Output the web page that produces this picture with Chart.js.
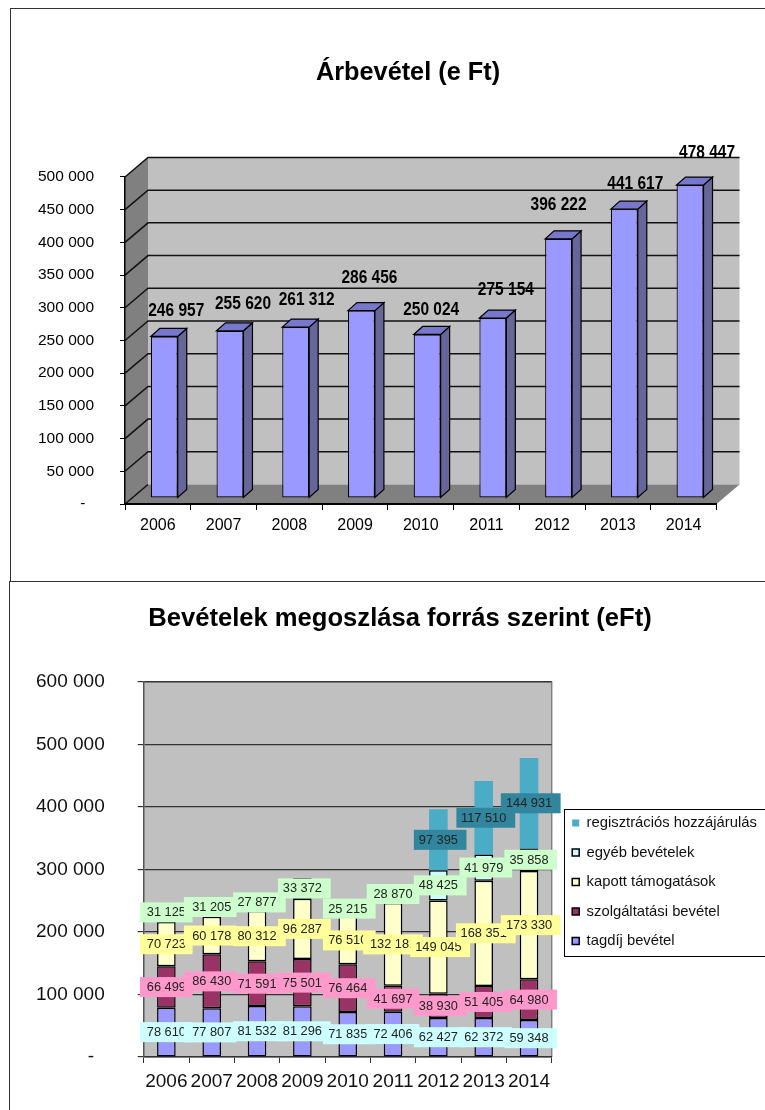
<!DOCTYPE html>
<html>
<head>
<meta charset="utf-8">
<script src="https://cdn.jsdelivr.net/npm/chart.js@4/dist/chart.umd.min.js"></script>
<style>
    html, body { margin: 0; padding: 0; background: #fff; }
    body { position: relative; width: 765px; height: 1110px; overflow: hidden; }
    canvas { position: absolute; left: 0; }
    #revenueChart { top: 0; }
    #sourcesChart { top: 581px; }
    .frame { position: absolute; background: #333; }
</style>
</head>
<body>
<div class="frame" style="left:10px;top:8px;width:755px;height:1px"></div>
<div class="frame" style="left:10px;top:8px;width:1px;height:573px"></div>
<div class="frame" style="left:9px;top:581px;width:756px;height:1px"></div>
<div class="frame" style="left:9px;top:581px;width:1px;height:529px"></div>
<canvas id="revenueChart" width="765" height="581"></canvas>
<canvas id="sourcesChart" width="765" height="529"></canvas>
<script>
const years = ["2006", "2007", "2008", "2009", "2010", "2011", "2012", "2013", "2014"];

// Árbevétel
const revenue = [246957, 255620, 261312, 286456, 250024, 275154, 396222, 441617, 478447];
const revenueLabelDx = [12, 13, 11, 8, 4, 13, 0, 11, 17];
const revenueLabelDy = [-26, -27, -27, -33, -25, -28, -34, -25, -32];

// Bevételek megoszlása
const tagdij = [78610, 77807, 81532, 81296, 71835, 72406, 62427, 62372, 59348];
const szolgaltatasi = [66499, 86430, 71591, 75501, 76464, 41697, 38930, 51405, 64980];
const tamogatasok = [70723, 60178, 80312, 96287, 76510, 132181, 149045, 168351, 173330];
const egyeb = [31125, 31205, 27877, 33372, 25215, 28870, 48425, 41979, 35858];
const regisztracios = [null, null, null, null, null, null, 97395, 117510, 144931];
// label boxes are not quite centred on their text in the original, per year
const labelBoxShift = [-0.1, -1.5, 2.4, 2, 1.6, 0, 1.8, 2.1, 1.7];

const FONT = "'Liberation Sans', Arial, sans-serif";

// thousands separated by space, zero printed as a dash like the excel format
function formatHu(value) {
    if (value === 0) return "-  ";
    return String(value).replace(/\B(?=(\d{3})+$)/g, " ");
}

// title block is centred on its own left/right, so move those after layout
function centerTitle(chart, center) {
    chart.titleBlock.left = center - 300;
    chart.titleBlock.right = center + 300;
}

// fake 3D for the upper chart, bars are shifted off the front plane
const wallDx = 23, wallDy = 19.5;
const barDx = 6.4, barDy = 6;
const depthX = 9, depthY = 8;

const fake3dPlugin = {
    id: "fake3d",
    afterLayout(chart) {
        centerTitle(chart, 408);
    },
    beforeDraw(chart) {
        const { ctx, chartArea: a, scales: { y } } = chart;
        ctx.save();
        ctx.fillStyle = "#C0C0C0";
        ctx.fillRect(a.left + wallDx, a.top - wallDy, a.width, a.height);
        ctx.fillStyle = "#808080";
        ctx.beginPath();
        ctx.moveTo(a.left, a.top);
        ctx.lineTo(a.left + wallDx, a.top - wallDy);
        ctx.lineTo(a.left + wallDx, a.bottom - wallDy);
        ctx.lineTo(a.left, a.bottom);
        ctx.closePath();
        ctx.fill();
        ctx.beginPath();
        ctx.moveTo(a.left, a.bottom);
        ctx.lineTo(a.left + wallDx, a.bottom - wallDy);
        ctx.lineTo(a.right + wallDx, a.bottom - wallDy);
        ctx.lineTo(a.right, a.bottom);
        ctx.closePath();
        ctx.fill();
        ctx.strokeStyle = "#111";
        ctx.lineWidth = 1.5;
        y.ticks.forEach(t => {
            const p = y.getPixelForValue(t.value);
            ctx.beginPath();
            ctx.moveTo(a.left, p);
            ctx.lineTo(a.left + wallDx, p - wallDy);
            if (t.value !== 0) ctx.lineTo(a.right + wallDx, p - wallDy);
            ctx.stroke();
        });
        ctx.restore();
    },
    beforeDatasetsDraw(chart) {
        const ctx = chart.ctx;
        ctx.save();
        ctx.translate(barDx, -barDy);
        ctx.lineWidth = 1.2;
        ctx.strokeStyle = "#000";
        chart.getDatasetMeta(0).data.forEach(bar => {
            const half = bar.width / 2;
            const right = bar.x + half, left = bar.x - half;
            ctx.fillStyle = "#666699";
            ctx.beginPath();
            ctx.moveTo(right, bar.y);
            ctx.lineTo(right + depthX, bar.y - depthY);
            ctx.lineTo(right + depthX, bar.base - depthY);
            ctx.lineTo(right, bar.base);
            ctx.closePath();
            ctx.fill();
            ctx.stroke();
            ctx.fillStyle = "#7777CC";
            ctx.beginPath();
            ctx.moveTo(left, bar.y);
            ctx.lineTo(left + depthX, bar.y - depthY);
            ctx.lineTo(right + depthX, bar.y - depthY);
            ctx.lineTo(right, bar.y);
            ctx.closePath();
            ctx.fill();
            ctx.stroke();
        });
    },
    afterDatasetsDraw(chart) {
        const ctx = chart.ctx;
        ctx.fillStyle = "#000";
        ctx.font = "bold 15.5px " + FONT;
        ctx.textAlign = "center";
        ctx.textBaseline = "middle";
        chart.getDatasetMeta(0).data.forEach((bar, i) => {
            // labels in the reference are stretched a bit taller
            ctx.save();
            ctx.translate(bar.x + revenueLabelDx[i], bar.y + revenueLabelDy[i]);
            ctx.scale(1, 1.18);
            ctx.fillText(formatHu(revenue[i]), 0, 0);
            ctx.restore();
        });
        ctx.restore();
    }
};

const sourcesPlugin = {
    id: "sourcesExtras",
    afterLayout(chart) {
        centerTitle(chart, 400);
        // legend box sits to the right of the plot, below its top
        const legend = chart.legend;
        legend.left = 557.5;
        legend.right = 765;
        legend.top = 219.9;
        legend.bottom = 476;
    },
    beforeDraw(chart) {
        const { ctx, chartArea: a } = chart;
        ctx.save();
        ctx.fillStyle = "#C0C0C0";
        ctx.fillRect(a.left, a.top, a.width, a.height);
        ctx.strokeStyle = "#808080";
        ctx.lineWidth = 1.5;
        ctx.beginPath();
        ctx.moveTo(a.left, a.top);
        ctx.lineTo(a.right, a.top);
        ctx.lineTo(a.right, a.bottom);
        ctx.stroke();
        ctx.fillStyle = "#fff";
        ctx.strokeStyle = "#000";
        ctx.lineWidth = 1;
        ctx.fillRect(564.5, 228.5, 205, 147);
        ctx.strokeRect(564.5, 228.5, 205, 147);
        ctx.restore();
    },
    afterDatasetsDraw(chart) {
        const ctx = chart.ctx;
        ctx.save();
        ctx.font = "12.8px " + FONT;
        ctx.textAlign = "center";
        ctx.textBaseline = "middle";
        chart.data.datasets.forEach((ds, d) => {
            chart.getDatasetMeta(d).data.forEach((bar, i) => {
                const value = ds.data[i];
                if (value === null) return;
                const text = formatHu(value);
                const y = (bar.y + bar.base) / 2;
                const w = ctx.measureText(text).width + 13.5;
                ctx.fillStyle = ds.labelBox;
                ctx.fillRect(bar.x - w / 2 + labelBoxShift[i], y - 10, w, 20);
                ctx.fillStyle = "#222";
                ctx.fillText(text, bar.x, y + 0.5);
            });
        });
        ctx.restore();
    }
};

new Chart(document.getElementById("revenueChart"), {
    type: "bar",
    data: {
        labels: years,
        datasets: [{
            data: revenue,
            backgroundColor: "#9999FF",
            borderColor: "#000",
            borderWidth: 1.2,
            borderSkipped: false,
            barPercentage: 0.41,
            categoryPercentage: 1,
            clip: false
        }]
    },
    options: {
        responsive: false,
        animation: false,
        layout: { padding: { left: 0, right: 48.5, top: 0, bottom: 0 } },
        plugins: {
            legend: { display: false },
            tooltip: { enabled: false },
            title: {
                display: true,
                text: "Árbevétel (e Ft)",
                color: "#000",
                font: { family: FONT, size: 25.3, weight: "bold" },
                padding: { top: 58, bottom: 88.6 }
            }
        },
        scales: {
            x: {
                afterFit: s => { s.height = 77; },
                grid: { drawOnChartArea: false, color: "#000", tickLength: 6 },
                border: { color: "#000", width: 2 },
                ticks: { color: "#000", font: { family: FONT, size: 16 }, padding: 6, maxRotation: 0 }
            },
            y: {
                min: 0,
                max: 500000,
                afterFit: s => { s.width = 125; },
                grid: { drawOnChartArea: false, color: "#000", tickLength: 5 },
                border: { color: "#000", width: 1.5 },
                ticks: {
                    stepSize: 50000,
                    color: "#000",
                    font: { family: FONT, size: 15.5 },
                    padding: 26,
                    callback: formatHu
                }
            }
        }
    },
    plugins: [fake3dPlugin]
});

function stackSeries(label, data, color, labelBox, borderWidth) {
    return {
        label, data, labelBox, borderWidth,
        backgroundColor: color,
        borderColor: "#000",
        borderSkipped: false,
        barPercentage: 0.41,
        categoryPercentage: 1
    };
}

new Chart(document.getElementById("sourcesChart"), {
    type: "bar",
    data: {
        labels: years,
        datasets: [
            stackSeries("tagdíj bevétel", tagdij, "#9999FF", "#CCFFFF", 1.5),
            stackSeries("szolgáltatási bevétel", szolgaltatasi, "#993366", "#FF99CC", 1.5),
            stackSeries("kapott támogatások", tamogatasok, "#FFFFCC", "#FFFF99", 1.5),
            stackSeries("egyéb bevételek", egyeb, "#CCFFFF", "#CCFFCC", 1.5),
            stackSeries("regisztrációs hozzájárulás", regisztracios, "#4BACC6", "#31859C", 0)
        ]
    },
    options: {
        responsive: false,
        animation: false,
        layout: { padding: { left: 0, right: 213.3, top: 0, bottom: 0 } },
        plugins: {
            tooltip: { enabled: false },
            title: {
                display: true,
                text: "Bevételek megoszlása forrás szerint (eFt)",
                color: "#000",
                font: { family: FONT, size: 25.6, weight: "bold" },
                padding: { top: 22.5, bottom: 47.8 }
            },
            legend: {
                position: "chartArea",
                align: "start",
                reverse: true,
                labels: {
                    color: "#111",
                    font: { family: FONT, size: 14.8 },
                    boxWidth: 7,
                    boxHeight: 7,
                    padding: 14.7
                }
            }
        },
        scales: {
            x: {
                stacked: true,
                afterFit: s => { s.height = 53; },
                grid: { drawOnChartArea: false, color: "#333", tickLength: 6 },
                border: { color: "#333", width: 1.5 },
                ticks: { color: "#111", font: { family: FONT, size: 19 }, padding: 7, maxRotation: 0 }
            },
            y: {
                stacked: true,
                min: 0,
                max: 600000,
                afterFit: s => { s.width = 143.7; },
                grid: { color: "#333", lineWidth: 1.2, tickLength: 6 },
                border: { color: "#555", width: 1.5 },
                ticks: {
                    stepSize: 100000,
                    color: "#111",
                    font: { family: FONT, size: 19 },
                    padding: 33,
                    callback: formatHu
                }
            }
        }
    },
    plugins: [sourcesPlugin]
});
</script>
</body>
</html>
